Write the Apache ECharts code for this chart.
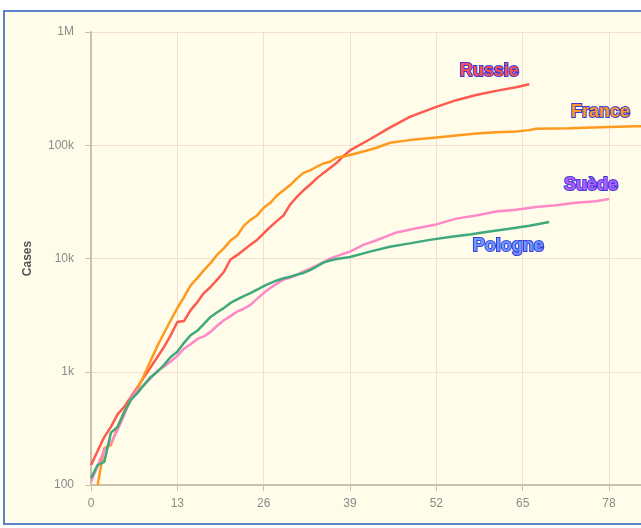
<!DOCTYPE html>
<html>
<head>
<meta charset="utf-8">
<script src="https://cdn.jsdelivr.net/npm/echarts@6/dist/echarts.min.js"></script>
<style>
html,body{margin:0;padding:0;background:#ffffff;width:641px;height:528px;overflow:hidden;}
#frame{position:absolute;left:3px;top:10px;width:700px;height:511px;border:2px solid #5b84c6;background:#fffde9;}
#chart{position:absolute;left:0;top:0;width:641px;height:528px;}
</style>
</head>
<body>
<div id="frame"></div>
<div id="chart"></div>
<script>
// x tick labels (days)
const xTicks = [0, 13, 26, 39, 52, 65, 78];
const yTickLabels = {100: '100', 1000: '1k', 10000: '10k', 100000: '100k', 1000000: '1M'};

const russiaDays = [0,1,2,3,4,5,6,7,8,9,10,11,12,13,14,15,16,17,18,19,20,21,22,23,24,25,26,27,28,29,30,31,32,33,34,35,36,37,38,39,42,45,48,52,55,58,61,64,66];
const russiaCases = [150,200,265,326,420,490,600,730,900,1100,1350,1660,2100,2750,2800,3500,4100,4950,5600,6500,7600,9800,10700,11900,13200,14600,16700,19000,21500,24000,30000,35000,40000,45000,51000,57000,63000,70000,80000,90000,113000,143000,178000,218000,250000,278000,302000,325000,345000];

const franceDays = [1,2,3,4,5,6,7,8,9,10,11,12,13,14,15,16,17,18,19,20,21,22,23,24,25,26,27,28,29,30,31,32,33,34,35,36,37,38,39,41,43,44,45,48,52,55,58,61,64,66,67,72,78,82,85];
const franceCases = [100,212,225,325,440,565,705,935,1260,1690,2200,2850,3650,4550,5800,6700,7900,9100,10800,12300,14400,15900,19400,21900,24000,28000,31000,36000,40000,44500,51000,57000,60000,64600,69000,71500,78000,79500,82000,88000,95000,100000,105000,111000,117000,122000,127000,130000,132000,136000,140000,141000,145000,147000,148000];

const swedenDays = [0,1,2,3,4,5,6,7,8,9,10,11,12,13,14,15,16,17,18,19,20,21,22,23,24,25,26,27,28,29,30,31,32,33,34,35,36,37,38,39,41,43,46,49,52,55,58,61,64,67,70,73,76,78];
const swedenCases = [107,147,204,235,306,415,585,690,760,880,1020,1110,1230,1380,1600,1750,1950,2050,2250,2550,2850,3100,3400,3600,3900,4400,4950,5500,6000,6500,6800,7150,7700,8150,8700,9300,10000,10500,11000,11500,13200,14500,17000,18500,20000,22500,24000,26000,27000,28500,29500,31000,32000,33500];

const polandDays = [0,1,2,3,4,5,6,7,8,9,10,11,12,13,14,15,16,17,18,19,20,21,22,23,24,25,26,27,28,29,30,31,32,33,34,35,36,37,39,42,45,48,51,54,57,60,63,66,69];
const polandCases = [115,150,160,290,325,440,565,650,770,900,1000,1150,1350,1500,1800,2100,2300,2650,3050,3350,3650,4050,4350,4650,4950,5300,5700,6050,6400,6700,6900,7200,7450,7900,8500,9200,9600,9900,10300,11500,12700,13600,14600,15500,16300,17300,18300,19500,21000];

const seriesNames = ['Russie', 'France', 'Suède', 'Pologne'];
const lineColors = ['#ff5a4e', '#ff9a1f', '#ff88c8', '#3fa97c'];
const labelColors = ['#ff4f4f', '#ff9a22', '#b95cff', '#6a9bff'];
const labelOffsets = [[-48, -13], [-63, -14], [-26, -14], [-49, 24]];

const allDays = [russiaDays, franceDays, swedenDays, polandDays];
const allCases = [russiaCases, franceCases, swedenCases, polandCases];

const chart = echarts.init(document.getElementById('chart'), null, {renderer: 'canvas'});

const series = seriesNames.map((name, i) => ({
  name: name,
  type: 'line',
  data: allDays[i].map((d, j) => [d, allCases[i][j]]),
  showSymbol: false,
  symbol: 'none',
  lineStyle: {color: lineColors[i], width: 2.5},
  itemStyle: {color: lineColors[i]},
  endLabel: {
    show: true,
    formatter: name,
    align: 'center',
    verticalAlign: 'middle',
    offset: labelOffsets[i],
    fontFamily: 'Liberation Sans, Arial, sans-serif',
    fontSize: 18,
    fontWeight: 'bold',
    color: labelColors[i],
    textBorderColor: '#3b3bdb',
    textBorderWidth: 2
  }
}));

chart.setOption({
  animation: false,
  backgroundColor: 'transparent',
  grid: {left: 91, top: 32, height: 453, width: 564.5, containLabel: false, outerBoundsMode: 'none'},
  xAxis: {
    type: 'value',
    min: 0,
    max: 85,
    interval: 13,
    axisLine: {show: true, lineStyle: {color: '#cbbfae', width: 2}},
    axisTick: {show: true, length: 6, lineStyle: {color: '#cbbfae'}},
    axisLabel: {color: '#8a8a8a', fontSize: 12, margin: 13, fontFamily: 'Liberation Sans, Arial, sans-serif',
      formatter: v => xTicks.indexOf(v) >= 0 ? String(v) : ''},
    splitLine: {show: true, lineStyle: {color: '#f3dfd0', width: 1}}
  },
  yAxis: {
    type: 'log',
    logBase: 10,
    min: 100,
    max: 1000000,
    offset: 3,
    name: 'Cases',
    nameLocation: 'middle',
    nameGap: 54,
    nameRotate: 90,
    nameTextStyle: {color: '#555555', fontSize: 12, fontWeight: 'bold', fontFamily: 'Liberation Sans, Arial, sans-serif'},
    axisLine: {show: true, lineStyle: {color: '#cbbfae', width: 2}},
    axisTick: {show: true, length: 6, lineStyle: {color: '#cbbfae'}},
    axisLabel: {color: '#8a8a8a', fontSize: 12, margin: 14, fontFamily: 'Liberation Sans, Arial, sans-serif',
      formatter: v => yTickLabels[Math.round(v)] || ''},
    splitLine: {show: true, lineStyle: {color: '#f3dfd0', width: 1}}
  },
  series: series
});
</script>
</body>
</html>
